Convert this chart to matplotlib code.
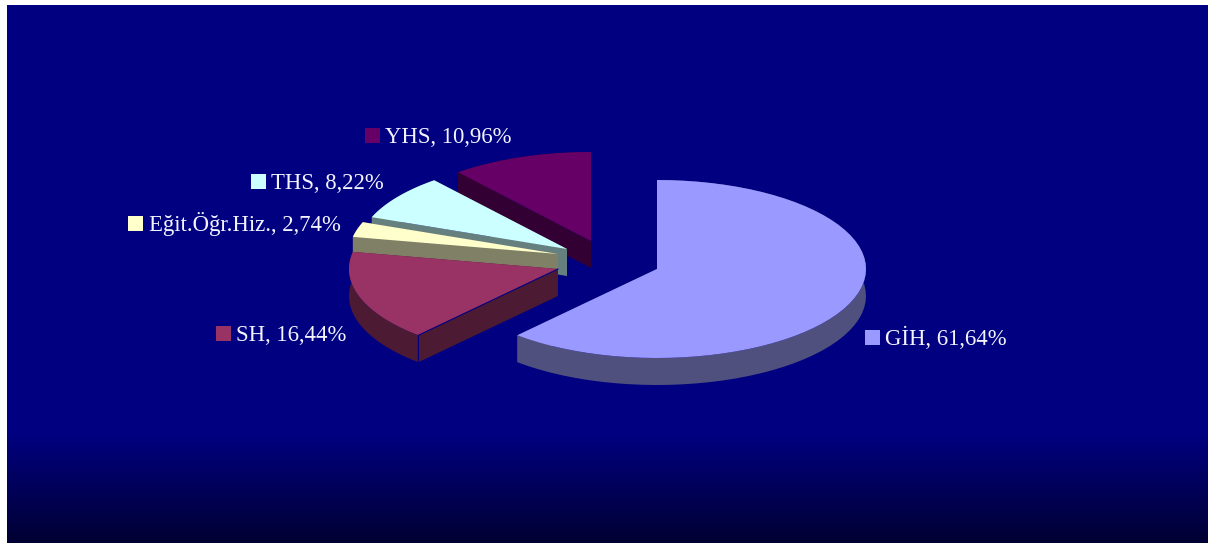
import numpy as np
import matplotlib
matplotlib.use('Agg')
import matplotlib.pyplot as plt
from matplotlib.colors import LinearSegmentedColormap
from matplotlib.patches import Polygon, Rectangle

plt.rcParams['font.family'] = ['Liberation Serif', 'DejaVu Serif']

# Chart data
labels = ['GİH', 'SH', 'Eğit.Öğr.Hiz.', 'THS', 'YHS']
values = [61.64, 16.44, 2.74, 8.22, 10.96]

# Colours: top of slice, side of slice
top_colors = ['#9999FF', '#993366', '#FFFFCC', '#CCFFFF', '#660066']
side_colors = ['#50507F', '#4D1A33', '#808066', '#668080', '#330033']

# Layout in image pixels: exploded apex of each slice and where its label goes
apex_x = [657, 558, 558, 567, 591]
apex_y = [269, 269, 254, 249, 241]
swatch_x = [865, 216, 128, 251, 365]
swatch_y = [330, 326, 216, 174, 128]
text_x = [885, 236, 149, 271, 385]
rx, ry, depth = 209, 89, 27

fig = plt.figure(figsize=(12.08, 5.43), dpi=100, facecolor='white')
ax = fig.add_axes([0, 0, 1, 1])

# Background, navy fading to near black at the bottom
cmap = LinearSegmentedColormap.from_list('bg', [(0, '#000080'), (0.8, '#000080'), (1, '#000033')])
ax.imshow(np.linspace(0, 1, 538).reshape(-1, 1), cmap=cmap, aspect='auto',
          extent=(7, 1208, 543, 5), zorder=0)
ax.set_xlim(0, 1208)
ax.set_ylim(543, 0)
ax.axis('off')

# Slice angles, clockwise from 12 o'clock
edges = np.radians(np.cumsum([0] + values) * 3.6)

z = 1
for i in range(len(values) - 1, -1, -1):
    t = np.linspace(edges[i], edges[i + 1], 60)
    cx, cy = apex_x[i], apex_y[i]
    arc_x = cx + rx * np.sin(t)
    arc_y = cy - ry * np.cos(t)

    # Side faces: the two cut walls and the rim
    for j in [0, -1]:
        wall = [(arc_x[j], arc_y[j]), (cx, cy), (cx, cy + depth), (arc_x[j], arc_y[j] + depth)]
        ax.add_patch(Polygon(wall, closed=True, fc=side_colors[i], ec='none', zorder=z))
    rim = np.column_stack([np.r_[arc_x, arc_x[::-1]], np.r_[arc_y, arc_y[::-1] + depth]])
    ax.add_patch(Polygon(rim, closed=True, fc=side_colors[i], ec='none', zorder=z))

    # Top face
    top = np.column_stack([np.r_[cx, arc_x], np.r_[cy, arc_y]])
    ax.add_patch(Polygon(top, closed=True, fc=top_colors[i], ec='none', zorder=z + 0.5))

    # SH has a thin navy line on its front corner
    if labels[i] == 'SH':
        ax.plot([cx, arc_x[0], arc_x[0]], [cy, arc_y[0], arc_y[0] + depth], color='#000080', lw=0.8, zorder=z + 0.6)
    z += 1

# Labels with colour swatches
for i in range(len(values)):
    ax.add_patch(Rectangle((swatch_x[i], swatch_y[i]), 14.5, 14.5, fc=top_colors[i], ec='none', zorder=10))
    value_text = f"{values[i]:.2f}".replace('.', ',')
    ax.text(text_x[i], swatch_y[i] + 15, f"{labels[i]}, {value_text}%",
            color='#F4F4FF', fontsize=16.4, ha='left', va='baseline', zorder=10)

fig.savefig('out.png', dpi=100, facecolor='white')
